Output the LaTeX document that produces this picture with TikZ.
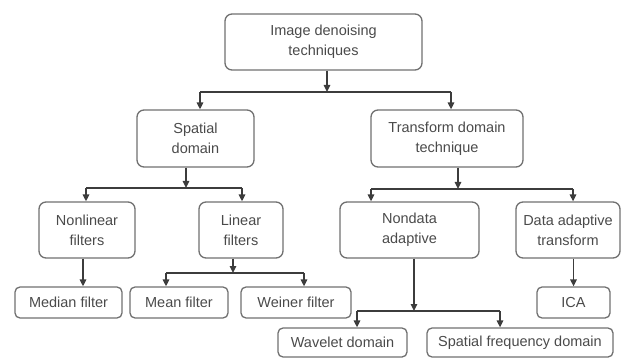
\documentclass[tikz,border=0pt]{standalone}
\usepackage{fontspec}
\setmainfont{Liberation Sans}
\usetikzlibrary{arrows.meta,calc}
\definecolor{boxgray}{HTML}{707070}
\definecolor{txtgray}{HTML}{4A4A4A}
\definecolor{linegray}{HTML}{3C3C3C}
\begin{document}
\begin{tikzpicture}[x=1pt,y=-1pt,
  box/.style={draw=boxgray, line width=1.3pt, rounded corners=7pt, align=center,
    inner sep=0pt, text=txtgray, font=\fontsize{14.5}{20}\selectfont,
    minimum height=56pt},
  sbox/.style={box, rounded corners=5pt, minimum height=31pt},
  conn/.style={draw=linegray, line width=1.5pt},
  arr/.style={conn, -{Triangle[width=6.5pt,length=7pt]}}]
\useasboundingbox (0,0) rectangle (621,358);
% nodes
\node[box, minimum width=197pt] (top) at (323.5,42) {Image denoising\\techniques};
\node[box, minimum width=117pt, minimum height=57pt] (spatial) at (195.5,138.5) {Spatial\\domain};
\node[box, minimum width=152pt, minimum height=57pt] (transform) at (447,138.5) {Transform domain\\technique};
\node[box, minimum width=96pt] (nonlin) at (87,230) {Nonlinear\\filters};
\node[box, minimum width=84pt] (lin) at (241,230) {Linear\\filters};
\node[box, minimum width=139pt] (nondata) at (409.5,230) {Nondata\\adaptive};
\node[box, minimum width=104pt] (dataad) at (568,230) {Data adaptive\\transform};
\node[sbox, minimum width=107pt] (median) at (68.5,302.5) {Median filter};
\node[sbox, minimum width=98pt] (mean) at (179,302.5) {Mean filter};
\node[sbox, minimum width=110pt] (weiner) at (296,302.5) {Weiner filter};
\node[sbox, minimum width=73pt] (ica) at (573.5,302.5) {ICA};
\node[sbox, minimum width=129pt, minimum height=29pt] (wavelet) at (342.5,342.5) {Wavelet domain};
\node[sbox, minimum width=186pt, minimum height=29pt] (sfreq) at (520,342.5) {Spatial frequency domain};
% bus coordinates
\coordinate (b1m) at (327,92);
\coordinate (b1l) at (200,92);
\coordinate (b1r) at (451,92);
\coordinate (b2m) at (186,188);
\coordinate (b2l) at (86,188);
\coordinate (b2r) at (242,188);
\coordinate (b3m) at (458,189);
\coordinate (b3l) at (371,189);
\coordinate (b3r) at (573,189);
\coordinate (b4m) at (233,273);
\coordinate (b4l) at (166,273);
\coordinate (b4r) at (304,273);
\coordinate (b5m) at (414,311);
\coordinate (b5l) at (357,311);
\coordinate (b5r) at (500,311);
% level 1
\draw[arr] (top.south -| b1m) -- (b1m);
\draw[conn] (b1l) -- (b1r);
\draw[arr] (b1l) -- (b1l |- spatial.north);
\draw[arr] (b1r) -- (b1r |- transform.north);
% spatial
\draw[arr] (spatial.south -| b2m) -- (b2m);
\draw[conn] (b2l) -- (b2r);
\draw[arr] (b2l) -- (b2l |- nonlin.north);
\draw[arr] (b2r) -- (b2r |- lin.north);
% transform
\draw[arr] (transform.south -| b3m) -- (b3m);
\draw[conn] (b3l) -- (b3r);
\draw[arr] (b3l) -- (b3l |- nondata.north);
\draw[arr] (b3r) -- (b3r |- dataad.north);
% nonlinear
\draw[arr] ($(nonlin.south)+(-4,0)$) -- ($(median.north)+(14.5,0)$);
% linear
\draw[arr] (lin.south -| b4m) -- (b4m);
\draw[conn] (b4l) -- (b4r);
\draw[arr] (b4l) -- (b4l |- mean.north);
\draw[arr] (b4r) -- (b4r |- weiner.north);
% nondata
\draw[arr] (nondata.south -| b5m) -- (b5m);
\draw[conn] (b5l) -- (b5r);
\draw[arr] (b5l) -- (b5l |- wavelet.north);
\draw[arr] (b5r) -- (b5r |- sfreq.north);
% data adaptive
\draw[arr] (dataad.south -| ica.north) -- (ica.north);
\end{tikzpicture}
\end{document}
